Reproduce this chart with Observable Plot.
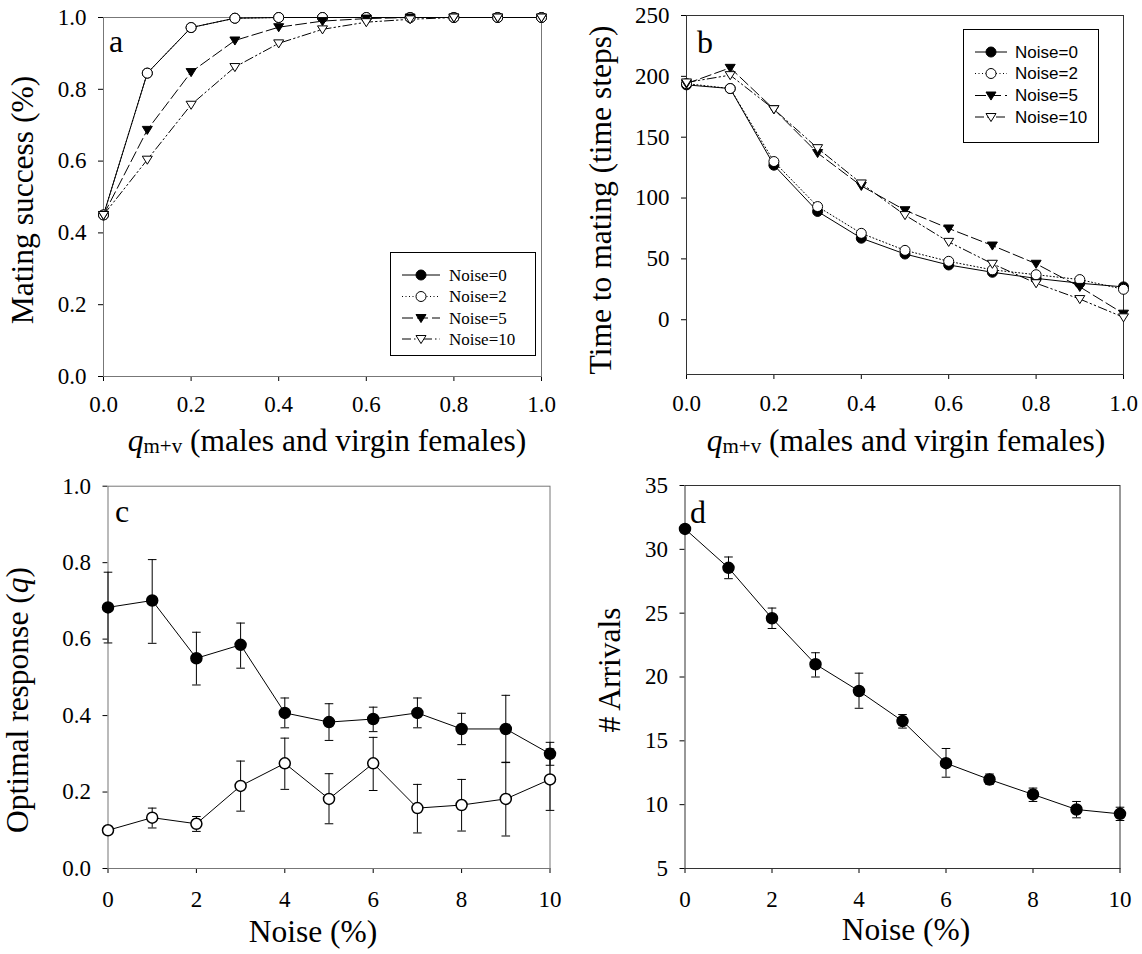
<!DOCTYPE html>
<html><head><meta charset="utf-8">
<script src="https://cdn.jsdelivr.net/npm/d3@7"></script>
<script src="https://cdn.jsdelivr.net/npm/@observablehq/plot@0.6"></script>
<style>
body{margin:0;background:#fff;}
#root{position:relative;width:1142px;height:954px;background:#fff;overflow:hidden;}
</style></head><body><div id="root"></div>
<script>
// ---------- data ----------
const qValues = [0, 0.1, 0.2, 0.3, 0.4, 0.5, 0.6, 0.7, 0.8, 0.9, 1.0];
const noiseValues = [0, 1, 2, 3, 4, 5, 6, 7, 8, 9, 10];
const seriesNames = ["Noise=0", "Noise=2", "Noise=5", "Noise=10"];

// panel a: mating success
const aNoise0  = [0.45, 0.845, 0.972, 0.998, 1, 1, 1, 1, 1, 1, 1];
const aNoise2  = [0.45, 0.845, 0.972, 0.998, 1, 1, 1, 1, 1, 1, 1];
const aNoise5  = [0.45, 0.687, 0.848, 0.936, 0.973, 0.99, 0.997, 1, 1, 1, 1];
const aNoise10 = [0.45, 0.604, 0.757, 0.862, 0.928, 0.967, 0.987, 0.995, 1, 1, 1];

// panel b: time to mating
const bNoise0  = [193, 190, 127, 89, 67, 54, 45, 39, 34, 30, 27];
const bNoise2  = [194, 190, 130, 93, 71, 57, 48, 41, 37, 33, 25];
const bNoise5  = [194, 207, 173, 137, 110, 90, 75, 61, 46, 27, 5];
const bNoise10 = [195, 201, 173, 141, 112, 86, 64, 46, 30, 17, 2];

// panel c: optimal response
const cFilled   = [0.683, 0.701, 0.55, 0.585, 0.407, 0.383, 0.391, 0.407, 0.365, 0.365, 0.30];
const cFilledHi = [0.775, 0.808, 0.618, 0.642, 0.446, 0.431, 0.422, 0.446, 0.406, 0.453, 0.33];
const cFilledLo = [0.59, 0.589, 0.48, 0.524, 0.368, 0.335, 0.358, 0.368, 0.324, 0.277, 0.27];
const cOpen     = [0.10, 0.133, 0.117, 0.216, 0.275, 0.182, 0.275, 0.158, 0.166, 0.182, 0.233];
const cOpenHi   = [0.10, 0.158, 0.136, 0.281, 0.341, 0.248, 0.343, 0.22, 0.233, 0.278, 0.313];
const cOpenLo   = [0.10, 0.106, 0.097, 0.15, 0.207, 0.117, 0.204, 0.093, 0.098, 0.085, 0.152];

// panel d: arrivals
const dArrivals   = [31.6, 28.55, 24.6, 21.0, 18.9, 16.55, 13.25, 11.97, 10.8, 9.62, 9.28];
const dArrivalsHi = [31.6, 29.4, 25.4, 21.9, 20.3, 17.06, 14.4, 12.4, 11.3, 10.25, 9.8];
const dArrivalsLo = [31.6, 27.7, 23.8, 20.0, 17.55, 16.0, 12.15, 11.6, 10.25, 8.97, 8.76];

// ticks
const qTicks = [0, 0.2, 0.4, 0.6, 0.8, 1.0];
const aTicks = [0, 0.2, 0.4, 0.6, 0.8, 1.0];
const bTicks = [0, 50, 100, 150, 200, 250];
const noiseTicks = [0, 2, 4, 6, 8, 10];
const cTicks = [0, 0.2, 0.4, 0.6, 0.8, 1.0];
const dTicks = [5, 10, 15, 20, 25, 30, 35];

// ---------- helpers ----------
const SERIF = "'Liberation Serif','Times New Roman',serif";
const SANS = "'Liberation Sans',Arial,sans-serif";
const root = document.getElementById("root");

const triDown = {draw(ctx, size) {
  const r = Math.sqrt(size / Math.PI);
  const h = r * 0.87;
  ctx.moveTo(-r, -h * 0.8); ctx.lineTo(r, -h * 0.8); ctx.lineTo(0, h * 1.05); ctx.closePath();
}};
const capSym = {draw(ctx, size) {
  const r = Math.sqrt(size / Math.PI);
  ctx.moveTo(-r, 0); ctx.lineTo(r, 0);
}};

const styles = [
  {name: seriesNames[0], dash: null, symbol: "circle", fill: "black"},
  {name: seriesNames[1], dash: "1,2.5", symbol: "circle", fill: "white"},
  {name: seriesNames[2], dash: "11,4", symbol: triDown, fill: "black"},
  {name: seriesNames[3], dash: "9,3,1.5,3,1.5,3", symbol: triDown, fill: "white"}
];

const rows = (xs, ys) => xs.map((x, i) => ({x, y: ys[i]}));
const errRows = (xs, ys, lo, hi) => xs.map((x, i) => ({x, y: ys[i], lo: lo[i], hi: hi[i]}));

function seriesMarks(list, r) {
  const lines = list.map((d, k) => Plot.line(d, {x: "x", y: "y", stroke: "black", strokeWidth: 1, strokeDasharray: styles[k].dash}));
  const dots = list.map((d, k) => Plot.dot(d, {x: "x", y: "y", symbol: styles[k].symbol, r, fill: styles[k].fill, stroke: "black", strokeWidth: 1}));
  return [...lines, ...dots];
}

function place(svg, left, top) {
  svg.style.position = "absolute";
  svg.style.left = left + "px";
  svg.style.top = top + "px";
  svg.style.overflow = "visible";
  root.appendChild(svg);
  return svg;
}

function addText(svg, left, top, x, y, parts, opts = {}) {
  const t = d3.select(svg).append("text")
    .attr("font-family", opts.font || SERIF)
    .attr("font-size", opts.size || 31.5)
    .attr("fill", "black")
    .attr("text-anchor", opts.anchor || "middle")
    .attr("transform", `translate(${x - left},${y - top})` + (opts.rotate ? ` rotate(${opts.rotate})` : ""));
  for (const p of parts) {
    const s = t.append("tspan").text(p.t);
    if (p.italic) s.attr("font-style", "italic");
    if (p.size) s.attr("font-size", p.size);
    if (p.dy) s.attr("dy", p.dy);
  }
  return t;
}

const fmt1 = d3.format(".1f");

// ---------- panel a ----------
const aData = [aNoise0, aNoise2, aNoise5, aNoise10].map(v => rows(qValues, v));
const svgA = Plot.plot({
  width: 560, height: 470, marginLeft: 103, marginRight: 19, marginTop: 17, marginBottom: 94,
  style: {fontFamily: SERIF, fontSize: "23px", background: "transparent", color: "black"},
  x: {domain: [0, 1], ticks: qTicks, tickFormat: fmt1, tickSize: 5, tickPadding: 14, label: null},
  y: {domain: [0, 1], ticks: aTicks, tickFormat: fmt1, tickSize: 5, tickPadding: 12, label: null},
  marks: [Plot.frame({stroke: "#777"}), ...seriesMarks(aData, 5)]
});
place(svgA, 0, 0);
addText(svgA, 0, 0, 33, 200, [{t: "Mating success (%)"}], {rotate: -90});
addText(svgA, 0, 0, 327, 451, [{t: "q", italic: true}, {t: "m+v", size: 21, dy: 2}, {t: " (males and virgin females)", dy: -2}]);
addText(svgA, 0, 0, 109, 52, [{t: "a"}], {anchor: "start", size: 32});

// ---------- panel b ----------
const bData = [bNoise0, bNoise2, bNoise5, bNoise10].map(v => rows(qValues, v));
const svgB = Plot.plot({
  width: 582, height: 470, marginLeft: 126, marginRight: 19, marginTop: 15, marginBottom: 96,
  style: {fontFamily: SERIF, fontSize: "23px", background: "transparent", color: "black"},
  x: {domain: [0, 1], ticks: qTicks, tickFormat: fmt1, tickSize: 5, tickPadding: 15, label: null},
  y: {domain: [-45, 250], ticks: bTicks, tickFormat: d3.format("d"), tickSize: 5, tickPadding: 12, label: null},
  marks: [Plot.frame({stroke: "#333"}), ...seriesMarks(bData, 5)]
});
place(svgB, 560, 0);
addText(svgB, 560, 0, 611, 200, [{t: "Time to mating (time steps)"}], {rotate: -90});
addText(svgB, 560, 0, 906, 451, [{t: "q", italic: true}, {t: "m+v", size: 21, dy: 2}, {t: " (males and virgin females)", dy: -2}]);
addText(svgB, 560, 0, 697, 53, [{t: "b"}], {anchor: "start", size: 32});

// ---------- panel c ----------
const cF = errRows(noiseValues, cFilled, cFilledLo, cFilledHi);
const cO = errRows(noiseValues, cOpen, cOpenLo, cOpenHi);
const errMarks = (d, r) => [
  Plot.ruleX(d, {x: "x", y1: "lo", y2: "hi", stroke: "black", strokeWidth: 1}),
  Plot.dot(d, {x: "x", y: "lo", symbol: capSym, r: 4.3, stroke: "black", strokeWidth: 1, fill: "none"}),
  Plot.dot(d, {x: "x", y: "hi", symbol: capSym, r: 4.3, stroke: "black", strokeWidth: 1, fill: "none"})
];
const svgC = Plot.plot({
  width: 560, height: 484, marginLeft: 107.5, marginRight: 10.5, marginTop: 15.7, marginBottom: 86,
  style: {fontFamily: SERIF, fontSize: "23px", background: "transparent", color: "black"},
  x: {domain: [0, 10], ticks: noiseTicks, tickFormat: d3.format("d"), tickSize: 5, tickPadding: 17, label: null},
  y: {domain: [0, 1], ticks: cTicks, tickFormat: fmt1, tickSize: 5, tickPadding: 12, label: null},
  marks: [
    Plot.frame({stroke: "#777"}),
    ...errMarks(cF), ...errMarks(cO),
    Plot.line(cF, {x: "x", y: "y", stroke: "black", strokeWidth: 1}),
    Plot.line(cO, {x: "x", y: "y", stroke: "black", strokeWidth: 1}),
    Plot.dot(cF, {x: "x", y: "y", r: 5.5, fill: "black", stroke: "black"}),
    Plot.dot(cO, {x: "x", y: "y", r: 5.5, fill: "white", stroke: "black"})
  ]
});
place(svgC, 0, 470);
addText(svgC, 0, 470, 28, 700, [{t: "Optimal response ("}, {t: "q", italic: true}, {t: ")"}], {rotate: -90});
addText(svgC, 0, 470, 313, 942, [{t: "Noise (%)"}]);
addText(svgC, 0, 470, 115, 522, [{t: "c"}], {anchor: "start", size: 32});

// ---------- panel d ----------
const dD = errRows(noiseValues, dArrivals, dArrivalsLo, dArrivalsHi);
const svgD = Plot.plot({
  width: 582, height: 484, marginLeft: 124.5, marginRight: 22.5, marginTop: 15, marginBottom: 86,
  style: {fontFamily: SERIF, fontSize: "23px", background: "transparent", color: "black"},
  x: {domain: [0, 10], ticks: noiseTicks, tickFormat: d3.format("d"), tickSize: 5, tickPadding: 17, label: null},
  y: {domain: [5, 35], ticks: dTicks, tickFormat: d3.format("d"), tickSize: 5, tickPadding: 12, label: null},
  marks: [
    Plot.frame({stroke: "#333"}),
    ...errMarks(dD),
    Plot.line(dD, {x: "x", y: "y", stroke: "black", strokeWidth: 1}),
    Plot.dot(dD, {x: "x", y: "y", r: 5.5, fill: "black", stroke: "black"})
  ]
});
place(svgD, 560, 470);
addText(svgD, 560, 470, 620, 670, [{t: "# Arrivals"}], {rotate: -90});
addText(svgD, 560, 470, 906, 940, [{t: "Noise (%)"}]);
addText(svgD, 560, 470, 690, 523, [{t: "d"}], {anchor: "start", size: 32});

// ---------- legends ----------
const leg = d3.select(root).append("svg")
  .attr("width", 1142).attr("height", 954)
  .style("position", "absolute").style("left", "0px").style("top", "0px")
  .style("pointer-events", "none");

function drawLegend(cfg) {
  const g = leg.append("g");
  g.append("rect").attr("x", cfg.x0).attr("y", cfg.y0)
    .attr("width", cfg.x1 - cfg.x0).attr("height", cfg.y1 - cfg.y0)
    .attr("fill", "white").attr("stroke", "black").attr("stroke-width", 1);
  styles.forEach((s, k) => {
    const y = cfg.ys[k];
    g.append("line").attr("x1", cfg.lx1).attr("x2", cfg.lx2).attr("y1", y).attr("y2", y)
      .attr("stroke", "black").attr("stroke-width", 1)
      .attr("stroke-dasharray", s.dash);
    const size = Math.PI * 5 * 5;
    const p = d3.path();
    if (s.symbol === "circle") { p.arc(0, 0, 5, 0, 2 * Math.PI); } else { s.symbol.draw(p, size); }
    g.append("path").attr("d", p.toString()).attr("transform", `translate(${cfg.mx},${y})`)
      .attr("fill", s.fill).attr("stroke", "black").attr("stroke-width", 1);
    g.append("text").attr("x", cfg.tx).attr("y", y).attr("dy", "0.35em")
      .attr("font-family", cfg.font).attr("font-size", cfg.size).attr("fill", "black")
      .text(s.name);
  });
}
drawLegend({x0: 390.5, x1: 535.5, y0: 252.5, y1: 355.5, lx1: 402, lx2: 440, mx: 421, tx: 449,
  ys: [275, 296.5, 318, 339], font: SERIF, size: 17});
drawLegend({x0: 963.5, x1: 1098.5, y0: 29.5, y1: 142.5, lx1: 975, lx2: 1007, mx: 991, tx: 1015,
  ys: [52, 73.5, 95.5, 117], font: SANS, size: 17});
</script>
</body></html>
